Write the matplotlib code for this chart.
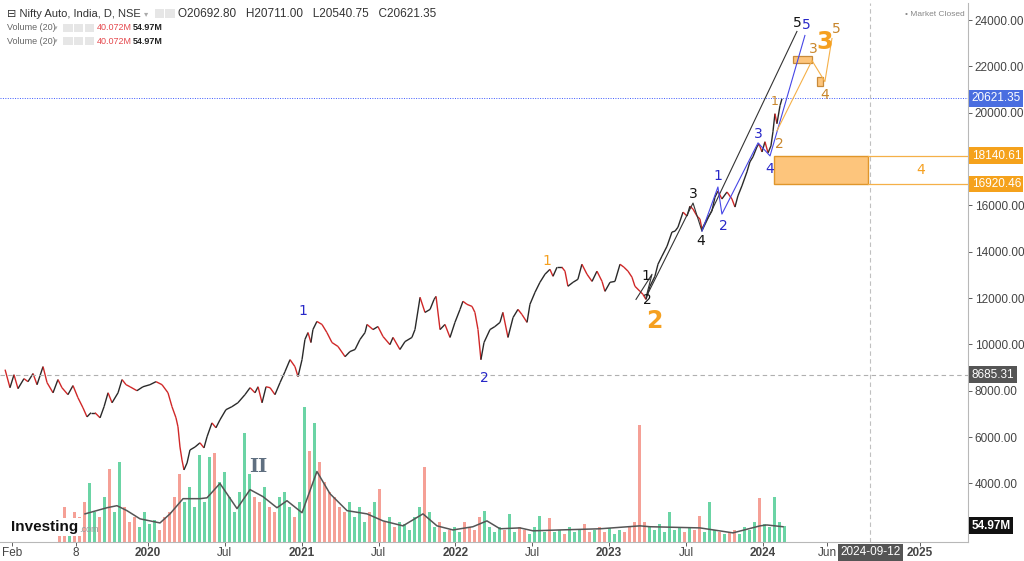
import matplotlib.pyplot as plt
import matplotlib.transforms as mtransforms
from matplotlib.collections import LineCollection
from matplotlib.patches import Rectangle
import numpy as np

plt.rcParams['font.family'] = ['Liberation Sans', 'DejaVu Sans']

# price path (decimal year, close)
price_t = [2019.070, 2019.102, 2019.128, 2019.154, 2019.193, 2019.219, 2019.252, 2019.278, 2019.317, 2019.343,
           2019.382, 2019.414, 2019.440, 2019.479, 2019.512, 2019.544, 2019.577, 2019.603, 2019.629, 2019.655,
           2019.688, 2019.714, 2019.740, 2019.766, 2019.805, 2019.831, 2019.857, 2019.883, 2019.928, 2019.967,
           2020.013, 2020.052, 2020.091, 2020.130, 2020.156, 2020.182, 2020.195, 2020.208, 2020.221, 2020.234,
           2020.254, 2020.273, 2020.306, 2020.338, 2020.364, 2020.384, 2020.416, 2020.442, 2020.468, 2020.507,
           2020.546, 2020.585, 2020.631, 2020.664, 2020.696, 2020.716, 2020.742, 2020.768, 2020.794, 2020.826,
           2020.859, 2020.891, 2020.924, 2020.956, 2020.976, 2021.002, 2021.021, 2021.041, 2021.060, 2021.073,
           2021.099, 2021.132, 2021.164, 2021.197, 2021.236, 2021.282, 2021.314, 2021.347, 2021.379, 2021.412,
           2021.425, 2021.464, 2021.496, 2021.529, 2021.574, 2021.594, 2021.639, 2021.672, 2021.717, 2021.737,
           2021.770, 2021.802, 2021.835, 2021.861, 2021.874, 2021.900, 2021.932, 2021.965, 2021.997, 2022.030,
           2022.049, 2022.075, 2022.108, 2022.127, 2022.147, 2022.166, 2022.186, 2022.225, 2022.257, 2022.290,
           2022.309, 2022.342, 2022.375, 2022.407, 2022.433, 2022.466, 2022.485, 2022.518, 2022.550, 2022.583,
           2022.615, 2022.635, 2022.661, 2022.693, 2022.713, 2022.732, 2022.765, 2022.797, 2022.823, 2022.856,
           2022.889, 2022.921, 2022.954, 2022.973, 2023.006, 2023.038, 2023.071, 2023.097, 2023.123, 2023.149,
           2023.168, 2023.201, 2023.220, 2023.240, 2023.266, 2023.298, 2023.318, 2023.344, 2023.377, 2023.409,
           2023.429, 2023.448, 2023.481, 2023.507, 2023.526, 2023.546, 2023.572, 2023.591, 2023.604, 2023.637,
           2023.669, 2023.689, 2023.708, 2023.734, 2023.767, 2023.799, 2023.819, 2023.838, 2023.864, 2023.897,
           2023.916, 2023.936, 2023.962, 2023.975, 2023.995, 2024.014, 2024.034, 2024.053, 2024.066, 2024.079,
           2024.092, 2024.112, 2024.125]
price_c = [8910, 8130, 8690, 8090, 8520, 8390, 8740, 8260, 9040, 8350,
           7910, 8480, 8130, 7830, 8220, 7700, 7260, 6870, 7050, 7050,
           6830, 7310, 7910, 7480, 7910, 8480, 8260, 8170, 8000, 8170,
           8260, 8390, 8260, 7910, 7310, 6830, 6440, 5570, 5010, 4580,
           4880, 5440, 5570, 5750, 5530, 6010, 6610, 6400, 6740, 7180,
           7310, 7480, 7830, 8130, 7910, 8170, 7480, 8170, 8130, 7830,
           8350, 8820, 9340, 9040, 8610, 9340, 10210, 10510, 10080, 10640,
           10990, 10860, 10510, 10080, 9910, 9470, 9690, 9780, 10210, 10510,
           10860, 10640, 10770, 10340, 9990, 10300, 9780, 10120, 10300, 10640,
           12030, 11380, 11510, 11940, 12070, 10640, 10860, 10300, 10950, 11510,
           11860, 11730, 11640, 11380, 10640, 9340, 10080, 10640, 10770, 10950,
           11380, 10300, 11160, 11510, 11290, 10950, 11730, 12250, 12680, 13030,
           13240, 12940, 13330, 13330, 13160, 12510, 12680, 12810, 13460, 13030,
           12720, 13160, 12720, 12290, 12680, 12720, 13460, 13330, 13160, 12900,
           12510, 12290, 12160, 11940, 12510, 12940, 13460, 13810, 14240, 14850,
           14890, 15060, 15710, 15540, 15970, 15840, 15540, 15410, 14980, 15410,
           15760, 16360, 16620, 16280, 16580, 16280, 15930, 16410, 16840, 17450,
           17880, 18100, 18530, 18660, 18310, 18750, 18270, 18570, 19180, 19960,
           19530, 20310, 20610]

# volume (millions), one bar per week-ish, Aug 2019 -> Feb 2024
vol_m = [69, 120, 52, 103, 86, 138, 203, 103, 86, 155, 251, 103, 272, 120, 69, 86, 52, 103, 62, 76,
         41, 86, 103, 155, 234, 138, 189, 120, 296, 138, 289, 306, 206, 241, 155, 103, 172, 372, 234, 155,
         138, 189, 120, 103, 155, 172, 120, 86, 138, 461, 310, 406, 275, 206, 172, 155, 120, 103, 138, 86,
         120, 69, 103, 138, 182, 69, 86, 52, 69, 62, 41, 86, 120, 255, 103, 52, 69, 34, 41, 52,
         34, 69, 52, 41, 86, 107, 52, 34, 52, 41, 96, 34, 52, 41, 28, 52, 89, 34, 83, 34,
         41, 28, 52, 34, 41, 62, 34, 41, 52, 34, 48, 28, 41, 34, 52, 69, 399, 69, 52, 41,
         62, 34, 103, 41, 52, 34, 48, 41, 89, 34, 138, 41, 34, 28, 34, 41, 28, 52, 41, 69,
         151, 62, 52, 155, 69, 55]
vol_start, vol_end = 2019.427, 2024.144

# 20-period volume average as drawn
ma_t = [2019.590, 2019.733, 2019.798, 2019.863, 2019.948, 2020.078, 2020.143, 2020.228, 2020.338, 2020.384,
        2020.468, 2020.579, 2020.664, 2020.748, 2020.839, 2020.904, 2021.002, 2021.099, 2021.184, 2021.295,
        2021.425, 2021.529, 2021.659, 2021.789, 2021.880, 2021.984, 2022.114, 2022.205, 2022.290, 2022.420,
        2022.505, 2022.680, 2022.941, 2023.201, 2023.266, 2023.591, 2023.806, 2023.982, 2024.027, 2024.131]
ma_v = [96, 117, 124, 107, 79, 65, 96, 148, 148, 151,
        200, 114, 179, 155, 117, 141, 100, 241, 165, 107,
        96, 72, 55, 96, 55, 41, 52, 72, 45, 48,
        38, 41, 45, 55, 52, 48, 31, 55, 58, 52]

# wave counts: black, blue, orange
black_t = [2023.175, 2023.279, 2023.240, 2023.546, 2023.604, 2024.222]
black_p = [11943, 13026, 12030, 16103, 14889, 23512]
blue_t = [2023.604, 2023.708, 2023.734, 2023.969, 2024.047, 2024.274]
blue_p = [14889, 16796, 15626, 18702, 18139, 23339]
orange_t = [2024.092, 2024.320, 2024.404, 2024.450]
orange_p = [19222, 22256, 21346, 23209]

BLUE = '#2828c8'
BLACK = '#141414'
TAN = '#c8862c'
ORANGE = '#f5a020'

wave_labels = [
    ("1", 2021.008, 11420, BLUE, 10), ("2", 2022.186, 8560, BLUE, 10),
    ("1", 2022.596, 13590, ORANGE, 10), ("2", 2023.296, 11000, ORANGE, 17),
    ("1", 2023.240, 12940, BLACK, 10), ("2", 2023.250, 11900, BLACK, 10),
    ("3", 2023.546, 16490, BLACK, 10), ("4", 2023.598, 14460, BLACK, 10),
    ("1", 2023.708, 17270, BLUE, 10), ("2", 2023.741, 15110, BLUE, 10),
    ("3", 2023.968, 19090, BLUE, 10), ("4", 2024.047, 17580, BLUE, 10),
    ("1", 2024.079, 20480, TAN, 9), ("2", 2024.105, 18660, TAN, 10),
    ("5", 2024.222, 23860, BLACK, 10), ("5", 2024.281, 23770, BLUE, 10),
    ("3", 2024.327, 22775, TAN, 10), ("4", 2024.405, 20780, TAN, 10),
    ("5", 2024.476, 23620, TAN, 10), ("3", 2024.404, 23060, ORANGE, 17),
]

last_price = 20621.35
ref_price = 8685.31
zone_lo, zone_hi = 16920.46, 18140.61
zone_t0, zone_t1 = 2024.073, 2024.684
box3 = (2024.196, 2024.320, 22169, 22472)
box4 = (2024.353, 2024.392, 21172, 21562)
cursor_t = 2024.70

xtick_pos = [2019.115, 2019.531, 2020.0, 2020.5, 2021.0, 2021.5, 2022.0, 2022.5, 2023.0, 2023.5, 2024.0, 2024.42, 2025.02]
xtick_lab = ['Feb', '8', '2020', 'Jul', '2021', 'Jul', '2022', 'Jul', '2023', 'Jul', '2024', 'Jun', '2025']

fig = plt.figure(figsize=(10.24, 5.61), dpi=100, facecolor='white')
ax = fig.add_axes([0.0, 0.034, 0.945, 0.96])
ax2 = ax.twinx()
ax.set_zorder(ax2.get_zorder() + 1)
ax.patch.set_visible(False)

# volume
vol_t = np.linspace(vol_start, vol_end, len(vol_m))
pt = np.array(price_t)
pc = np.array(price_c)
idx = np.clip(np.searchsorted(pt, vol_t), 1, len(pt) - 1)
vcol = np.where(pc[idx] >= pc[idx - 1], '#2cc37f', '#f2786a')
ax2.bar(vol_t, vol_m, width=0.02, color=vcol, alpha=0.7, linewidth=0)
ax2.plot(ma_t, ma_v, color='#555555', lw=1.1)
ax2.set_ylim(0, 1843)
ax2.axis('off')

# price
pts = np.column_stack([pt, pc])
segs = np.stack([pts[:-1], pts[1:]], axis=1)
seg_col = np.where(np.diff(pc) < 0, '#d02828', '#2a2a2a')
ax.add_collection(LineCollection(segs, colors=seg_col, linewidths=1.0))

ax.axhline(last_price, color='#3d5afe', lw=0.7, ls=(0, (1, 1.5)))
ax.axhline(ref_price, color='#b0b0b0', lw=0.8, ls=(0, (4, 3)))
ax.axvline(cursor_t, color='#c0c0c0', lw=0.8, ls=(0, (4, 3)))

ax.plot(black_t, black_p, color='#333333', lw=0.8)
ax.plot(blue_t, blue_p, color='#4646e6', lw=0.8)
ax.plot(orange_t, orange_p, color='#f5b048', lw=0.8)

ax.add_patch(Rectangle((zone_t0, zone_lo), zone_t1 - zone_t0, zone_hi - zone_lo,
                       facecolor='#fdc57c', edgecolor='#e0962a', lw=1.0))
ax.plot([zone_t1, 2025.34], [zone_hi, zone_hi], color='#f5b048', lw=0.9)
ax.plot([zone_t1, 2025.34], [zone_lo, zone_lo], color='#f5b048', lw=0.9)
ax.text(2025.03, (zone_lo + zone_hi) / 2, '4', color=ORANGE, fontsize=10, ha='center', va='center',
        family='DejaVu Sans')
for b in (box3, box4):
    ax.add_patch(Rectangle((b[0], b[2]), b[1] - b[0], b[3] - b[2],
                           facecolor='#fdc57c', edgecolor='#c88a3a', lw=0.9))

for txt, t, p, c, s in wave_labels:
    ax.text(t, p, txt, color=c, fontsize=s, ha='center', va='center', family='DejaVu Sans',
            fontweight='bold' if s > 12 else 'normal')
ax.text(2020.716, 4707, 'II', color='#5f6f80', fontsize=14, fontweight='bold', ha='center', va='center',
        family='DejaVu Serif')

ax.set_xlim(2019.037, 2025.333)
ax.set_ylim(1470, 24725)

# axes styling
yt = list(range(4000, 24001, 2000))
ax.yaxis.tick_right()
ax.set_yticks(yt)
ax.set_yticklabels(['' if v == 18000 else f'{v:.2f}' for v in yt])
ax.tick_params(axis='y', labelsize=8.5, colors='#444444', length=3, pad=2, width=0.6)
ax.set_xticks(xtick_pos)
ax.set_xticklabels(xtick_lab)
ax.tick_params(axis='x', labelsize=8.5, colors='#444444', length=3, pad=1, width=0.6)
for lab in ax.get_xticklabels():
    if lab.get_text().isdigit() and len(lab.get_text()) == 4:
        lab.set_fontweight('bold')
for s in ['left', 'top']:
    ax.spines[s].set_visible(False)
ax.spines['right'].set_color('#b8b8b8')
ax.spines['bottom'].set_color('#b8b8b8')

# right-edge value tags
tr = mtransforms.blended_transform_factory(ax.transAxes, ax.transData)
tags = [(last_price, '20621.35', '#4a6ee0'), (zone_hi, '18140.61', '#f5a21c'),
        (zone_lo, '16920.46', '#f5a21c'), (ref_price, '8685.31', '#555555')]
for v, s, c in tags:
    ax.text(1.004, v, s, transform=tr, color='white', fontsize=8.5, va='center', ha='left',
            bbox=dict(boxstyle='square,pad=0.2', facecolor=c, edgecolor='none'))
trv = mtransforms.blended_transform_factory(ax.transAxes, ax2.transData)
ax.text(1.004, 55, '54.97M', transform=trv, color='white', fontsize=8.5, va='center', ha='left',
        fontweight='bold', bbox=dict(boxstyle='square,pad=0.2', facecolor='#111111', edgecolor='none'))
ax.text(cursor_t, -0.0195, '2024-09-12', transform=ax.get_xaxis_transform(), color='white', fontsize=8.5,
        ha='center', va='center', bbox=dict(boxstyle='square,pad=0.2', facecolor='#555555', edgecolor='none'))

# header legend
fig.text(0.007, 1 - 14 / 561, '⊟ Nifty Auto, India, D, NSE', fontsize=8, color='#333333', va='center')
fig.text(0.141, 1 - 14 / 561, '▾', fontsize=6, color='#aaaaaa', va='center', family='DejaVu Sans')
fig.text(0.174, 1 - 14 / 561, 'O20692.80   H20711.00   L20540.75   C20621.35', fontsize=8.5, color='#333333',
         va='center')
for yy in (28, 41):
    fig.text(0.007, 1 - yy / 561, 'Volume (20)', fontsize=6.5, color='#666666', va='center')
    fig.text(0.053, 1 - yy / 561, '▾', fontsize=5, color='#aaaaaa', va='center', family='DejaVu Sans')
    fig.text(0.095, 1 - yy / 561, '40.072M', fontsize=6.5, color='#e5484d', va='center')
    fig.text(0.130, 1 - yy / 561, '54.97M', fontsize=6.5, color='#222222', va='center', fontweight='bold')
    for k in range(3):
        fig.patches.append(Rectangle((0.062 + k * 0.0105, 1 - (yy + 4) / 561), 0.009, 8 / 561,
                                     transform=fig.transFigure, facecolor='#e6e6e6', edgecolor='none'))
for k in range(2):
    fig.patches.append(Rectangle((0.151 + k * 0.0105, 1 - 18 / 561), 0.009, 9 / 561,
                                 transform=fig.transFigure, facecolor='#e6e6e6', edgecolor='none'))
fig.text(0.942, 1 - 14 / 561, '• Market Closed', fontsize=6, color='#888888', va='center', ha='right')

fig.text(0.011, 1 - 527 / 561, 'Investing', fontsize=11, fontweight='bold', color='#111111', va='center',
         bbox=dict(boxstyle='square,pad=0.15', facecolor='white', edgecolor='none'))
fig.text(0.077, 1 - 529 / 561, '.com', fontsize=6.5, color='#999999', va='center')

plt.savefig('out.png', dpi=100)
